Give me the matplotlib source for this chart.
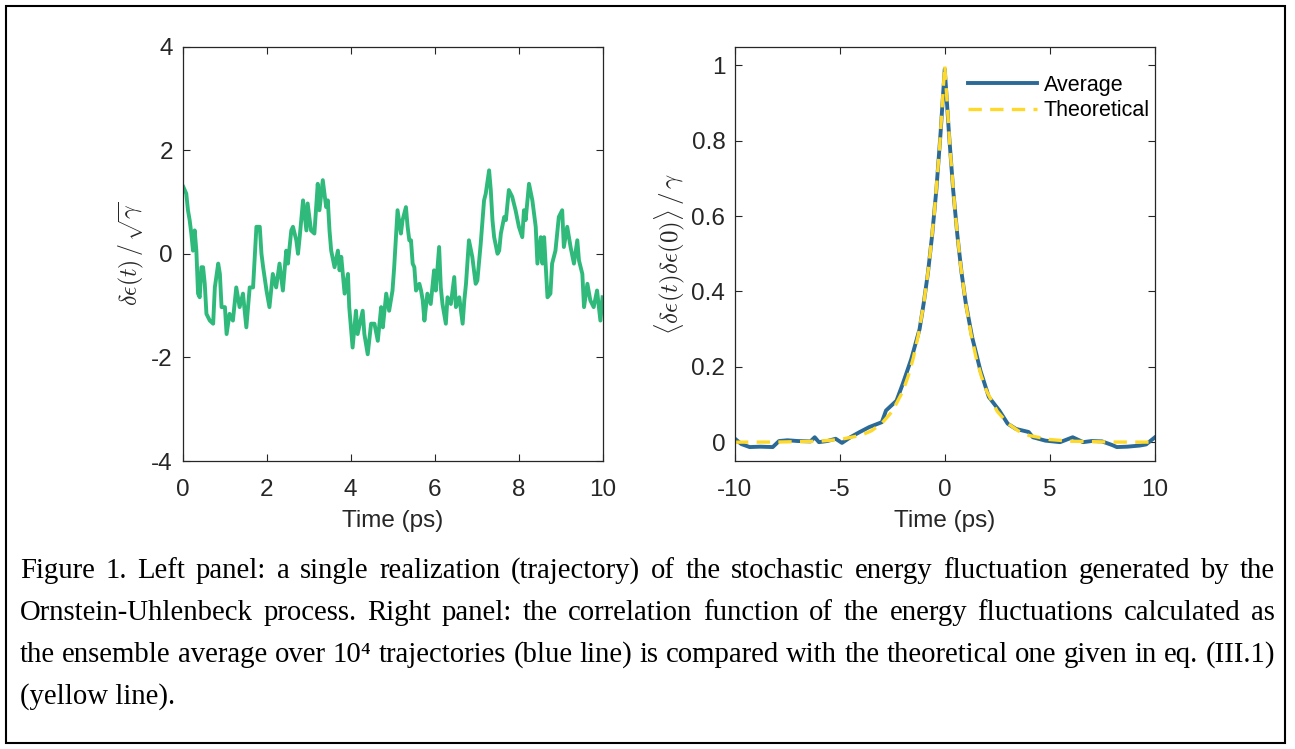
import numpy as np
import matplotlib.pyplot as plt
from matplotlib.patches import Rectangle

plt.rcParams['font.family'] = ['Liberation Sans', 'DejaVu Sans']
plt.rcParams['mathtext.fontset'] = 'cm'
plt.rcParams['axes.unicode_minus'] = False

# left panel: one trajectory
t_traj = [0.02, 0.09, 0.13, 0.17, 0.21, 0.25, 0.29, 0.33, 0.37, 0.41, 0.45, 0.49, 0.53, 0.57,
          0.65, 0.73, 0.77, 0.85, 0.89, 0.93, 1.01, 1.05, 1.12, 1.20, 1.28, 1.36, 1.44, 1.52,
          1.60, 1.68, 1.76, 1.84, 1.88, 1.92, 2.00, 2.07, 2.15, 2.23, 2.31, 2.39, 2.47, 2.51,
          2.59, 2.63, 2.71, 2.75, 2.79, 2.87, 2.95, 2.98, 3.06, 3.14, 3.22, 3.26, 3.34, 3.42,
          3.46, 3.50, 3.54, 3.62, 3.70, 3.74, 3.78, 3.86, 3.94, 3.97, 4.05, 4.13, 4.17, 4.29,
          4.33, 4.41, 4.49, 4.57, 4.65, 4.73, 4.77, 4.85, 4.92,
          5.00, 5.04, 5.12, 5.20, 5.24, 5.32, 5.36, 5.40, 5.44, 5.48, 5.52, 5.56, 5.64, 5.68,
          5.72, 5.76, 5.83, 5.91, 5.99, 6.03, 6.11, 6.15, 6.19, 6.27, 6.31, 6.39, 6.47, 6.51,
          6.59, 6.67, 6.71, 6.75, 6.82, 6.90, 6.98, 7.02, 7.10, 7.18, 7.22, 7.30, 7.34, 7.38,
          7.42, 7.50, 7.54, 7.58, 7.66, 7.70, 7.77, 7.85, 7.93, 8.01, 8.09, 8.13, 8.17, 8.25,
          8.33, 8.41, 8.45, 8.53, 8.57, 8.61, 8.69, 8.76, 8.80, 8.88, 8.96, 9.04, 9.08, 9.16,
          9.24, 9.32, 9.40, 9.44, 9.52, 9.56, 9.64, 9.71, 9.79, 9.87, 9.95, 10.0]
x_traj = [1.29, 1.16, 0.84, 0.65, 0.39, 0.06, 0.45, 0.06, -0.77, -0.84, -0.26, -0.26, -0.58, -1.16,
          -1.29, -1.35, -0.65, -0.19, -0.39, -1.03, -1.03, -1.55, -1.16, -1.29, -0.65, -1.03, -0.77, -1.42,
          -0.65, -0.65, 0.52, 0.52, 0.00, -0.26, -0.71, -1.03, -0.39, -0.65, -0.19, -0.71, 0.06, -0.19,
          0.45, 0.52, 0.26, 0.00, 0.32, 1.03, 0.45, 0.97, 0.45, 0.39, 1.35, 0.84, 1.42, 0.90,
          1.03, 0.45, 0.06, -0.26, 0.06, -0.32, -0.06, -0.77, -0.39, -1.03, -1.81, -1.10, -1.55, -1.10,
          -1.55, -1.94, -1.35, -1.35, -1.68, -1.03, -1.42, -0.77, -1.10,
          -0.71, -0.26, 0.84, 0.39, 0.65, 0.90, 0.52, 0.26, 0.26, -0.19, -0.26, -0.71, -0.58, -0.71,
          -0.90, -1.29, -0.77, -0.97, -0.32, -0.71, 0.13, -0.65, -0.97, -1.35, -0.84, -0.97, -0.45, -1.03,
          -0.84, -1.35, -0.90, -0.58, 0.26, -0.06, -0.58, -0.52, 0.19, 1.03, 1.16, 1.61, 1.23, 0.65,
          0.32, 0.00, 0.06, 0.39, 0.71, 0.65, 1.23, 1.10, 0.84, 0.52, 0.32, 0.84, 0.65, 1.35,
          1.03, 0.52, -0.19, 0.32, -0.19, 0.32, -0.84, -0.77, -0.19, 0.06, 0.71, 0.84, 0.13, 0.52,
          0.13, -0.19, 0.26, -0.13, -0.39, -1.03, -0.58, -0.90, -1.03, -0.71, -1.29, -0.84]

# right panel: ensemble average and theoretical correlation
t_avg = [-10, -9.7, -9.3, -8.8, -8.2, -7.9, -7.5, -7.0, -6.4, -6.2, -6.0, -5.6, -5.2, -4.9,
         -4.5, -4.05, -3.6, -3.0, -2.8, -2.3, -2.0, -1.6, -1.2, -1.0, -0.8, -0.6, -0.4, -0.2,
         0, 0.2, 0.4, 0.6, 0.8, 1.0, 1.3, 1.7, 2.1, 2.6, 3.0, 3.4, 4.0, 4.2, 4.8, 5.5,
         6.1, 6.6, 7.0, 7.5, 8.0, 8.2, 8.7, 9.3, 9.6, 10]
c_avg = [0.009, -0.005, -0.013, -0.012, -0.013, 0.003, 0.005, 0.003, 0.002, 0.013, 0.0, 0.003,
         0.009, -0.002, 0.013, 0.027, 0.04, 0.053, 0.084, 0.11, 0.155, 0.22, 0.30, 0.37, 0.45,
         0.55, 0.67, 0.82, 0.99, 0.82, 0.67, 0.55, 0.45, 0.37, 0.28, 0.19, 0.12, 0.084, 0.049,
         0.035, 0.027, 0.013, 0.004, 0.0, 0.013, 0.0, 0.003, 0.002, -0.008, -0.013, -0.012,
         -0.009, -0.006, 0.012]
t_theo = [-10, -8, -6, -5, -4, -3.5, -3, -2.5, -2, -1.75, -1.5, -1.25, -1, -0.75, -0.5, -0.25,
          0, 0.25, 0.5, 0.75, 1, 1.25, 1.5, 1.75, 2, 2.5, 3, 3.5, 4, 5, 6, 8, 10]
c_theo = [0.0, 0.0003, 0.0025, 0.007, 0.018, 0.03, 0.05, 0.082, 0.135, 0.174, 0.223, 0.287,
          0.368, 0.472, 0.607, 0.779, 1.0, 0.779, 0.607, 0.472, 0.368, 0.287, 0.223, 0.174,
          0.135, 0.082, 0.05, 0.03, 0.018, 0.007, 0.0025, 0.0003, 0.0]

green = '#2fba7b'
blue = '#2b6a96'
yellow = '#ffd92a'
axcol = '#262626'
fs = 17.5

fig = plt.figure(figsize=(12.95, 7.49), dpi=100)
W, H = 1295.0, 749.0

def px_axes(x0, x1, ytop, ybot):
    return fig.add_axes([x0 / W, 1 - ybot / H, (x1 - x0) / W, (ybot - ytop) / H])

ax1 = px_axes(182.5, 602.5, 46.5, 461)
ax2 = px_axes(735, 1154.5, 46.5, 461)

for ax in (ax1, ax2):
    ax.tick_params(direction='in', top=True, right=True, length=5, width=0.8,
                   labelsize=fs, colors=axcol)
    ax.tick_params(axis='x', pad=13)
    ax.tick_params(axis='y', pad=7)
    for s in ax.spines.values():
        s.set_color(axcol)
        s.set_linewidth(0.9)

ax1.plot(t_traj, x_traj, color=green, lw=2.8)
ax1.set_xlim(0, 10)
ax1.set_ylim(-4, 4)
ax1.set_xticks([0, 2, 4, 6, 8, 10])
ax1.set_yticks([-4, -2, 0, 2, 4])
ax1.set_xlabel('Time (ps)', fontsize=fs, color=axcol, labelpad=6.5)
ax1.set_ylabel(r'$\delta\epsilon(t)\,/\,\sqrt{\gamma}$', fontsize=17, color=axcol, labelpad=4)

ax2.plot(t_avg, c_avg, color=blue, lw=2.8, label='Average')
ax2.plot(t_theo, c_theo, color=yellow, lw=2.4, dashes=(4, 2.5), label='Theoretical')
ax2.set_xlim(-10, 10)
ax2.set_ylim(-0.05, 1.05)
ax2.set_xticks([-10, -5, 0, 5, 10])
ax2.set_yticks([0, 0.2, 0.4, 0.6, 0.8, 1])
ax2.set_yticklabels(['0', '0.2', '0.4', '0.6', '0.8', '1'])
ax2.set_xlabel('Time (ps)', fontsize=fs, color=axcol, labelpad=6.5)
ax2.set_ylabel(r'$\langle\delta\epsilon(t)\delta\epsilon(0)\rangle\,/\,\gamma$', fontsize=18,
               color=axcol, labelpad=3)
ax2.legend(loc='upper left', bbox_to_anchor=(0.555, 0.932), frameon=False, fontsize=15.5,
           handlelength=3.2, handletextpad=0.32, labelspacing=0.22, borderpad=0, borderaxespad=0)

# frame around the whole figure
fig.patches.append(Rectangle((6 / W, 1 - 743 / H), 1279 / W, 737 / H, transform=fig.transFigure,
                             fill=False, ec='black', lw=1.5))

# caption, justified line by line
caption = [
    'Figure 1. Left panel: a single realization (trajectory) of the stochastic energy fluctuation generated by the',
    'Ornstein-Uhlenbeck process. Right panel: the correlation function of the energy fluctuations calculated as',
    'the ensemble average over 10\u2074 trajectories (blue line) is compared with the theoretical one given in eq. (III.1)',
    '(yellow line).',
]
baselines = [578, 620, 662, 704]
x_left, x_right = 20, 1275
serif = ['Liberation Serif', 'DejaVu Serif']
renderer = fig.canvas.get_renderer()

# pick a size so the longest line fits with ordinary word spaces
base = 20.0
need = []
for line in caption:
    words = line.split(' ')
    tmp = [fig.text(0, 0, w, family=serif, fontsize=base) for w in words]
    tot = sum(a.get_window_extent(renderer).width for a in tmp)
    for a in tmp:
        a.remove()
    space = 0.25 * base * 100 / 72
    need.append(tot + space * (len(words) - 1))
cap_fs = base * (x_right - x_left) / max(need)

for i, (line, yb) in enumerate(zip(caption, baselines)):
    if i == len(caption) - 1:
        fig.text(x_left / W, 1 - yb / H, line, va='baseline', ha='left', family=serif, fontsize=cap_fs)
        continue
    words = line.split(' ')
    arts = [fig.text(0, 1 - yb / H, w, va='baseline', ha='left', family=serif, fontsize=cap_fs)
            for w in words]
    widths = [a.get_window_extent(renderer).width for a in arts]
    gap = (x_right - x_left - sum(widths)) / (len(words) - 1)
    x = x_left
    for a, w in zip(arts, widths):
        a.set_x(x / W)
        x += w + gap

fig.savefig('out.png', dpi=100)
